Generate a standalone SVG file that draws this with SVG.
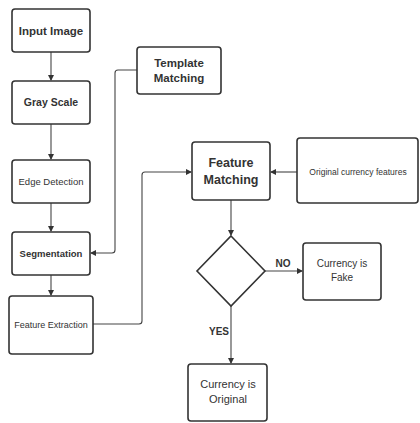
<svg xmlns="http://www.w3.org/2000/svg" width="420" height="423" viewBox="0 0 420 423">
<defs>
<marker id="ah" markerWidth="6" markerHeight="6" refX="5" refY="3" orient="auto" markerUnits="userSpaceOnUse">
<path d="M0,0 L6,3 L0,6 Z" fill="#333"/>
</marker>
<style>
.box{fill:#fff;stroke:#333;stroke-width:1.6}
.t{font-family:"Liberation Sans",Arial,sans-serif;fill:#333;text-anchor:middle}
.b{font-weight:bold}
.c{fill:none;stroke:#444;stroke-width:1.1}
</style>
</defs>
<rect width="420" height="423" fill="#fff"/>
<g id="connectors">
<path class="c" d="M51,52 V80" marker-end="url(#ah)"/>
<path class="c" d="M51,124 V159" marker-end="url(#ah)"/>
<path class="c" d="M51,203 V231" marker-end="url(#ah)"/>
<path class="c" d="M51,275 V295" marker-end="url(#ah)"/>
<path class="c" d="M137,70 H118 Q115,70 115,73 V250 Q115,253 112,253 H91" marker-end="url(#ah)"/>
<path class="c" d="M93,324 H139 Q142,324 142,321 V175 Q142,172 145,172 H191" marker-end="url(#ah)"/>
<path class="c" d="M297,172 H271" marker-end="url(#ah)"/>
<path class="c" d="M231,200 V235" marker-end="url(#ah)"/>
<path class="c" d="M265,271 H302" marker-end="url(#ah)"/>
<path class="c" d="M231,306 V363" marker-end="url(#ah)"/>
<text class="t b" x="283" y="267" font-size="10">NO</text>
<text class="t b" x="219" y="335" font-size="10">YES</text>
</g>
<g id="input-image">
<rect class="box" x="12" y="9" width="78" height="43" rx="3"/>
<text class="t b" x="51" y="35" font-size="11.5">Input Image</text>
</g>
<g id="gray-scale">
<rect class="box" x="12" y="81" width="78" height="43" rx="3"/>
<text class="t b" x="51" y="106" font-size="10.5">Gray Scale</text>
</g>
<g id="edge-detection">
<rect class="box" x="12" y="160" width="78" height="43" rx="3"/>
<text class="t" x="51" y="185" font-size="9.5">Edge Detection</text>
</g>
<g id="segmentation">
<rect class="box" x="12" y="232" width="78" height="43" rx="3"/>
<text class="t b" x="51" y="257" font-size="9.5">Segmentation</text>
</g>
<g id="feature-extraction">
<rect class="box" x="9" y="296" width="84" height="58" rx="3"/>
<text class="t" x="51" y="328" font-size="9">Feature Extraction</text>
</g>
<g id="template-matching">
<rect class="box" x="137" y="47" width="84" height="47" rx="3"/>
<text class="t b" x="179" y="67" font-size="11.5">Template</text>
<text class="t b" x="179" y="82" font-size="11.5">Matching</text>
</g>
<g id="feature-matching">
<rect class="box" x="192" y="142" width="78" height="58" rx="3"/>
<text class="t" x="231" y="167" font-size="12.5" font-weight="600">Feature</text>
<text class="t" x="231" y="184" font-size="12.5" font-weight="600">Matching</text>
</g>
<g id="original-currency-features">
<rect class="box" x="297" y="138" width="121" height="65" rx="3"/>
<text class="t" x="358" y="175" font-size="8.5">Original currency features</text>
</g>
<g id="decision">
<path class="box" d="M231,236 L265,271 L231,306 L197,271 Z"/>
</g>
<g id="currency-fake">
<rect class="box" x="303" y="243" width="78" height="57" rx="3"/>
<text class="t" x="342" y="267" font-size="10">Currency is</text>
<text class="t" x="342" y="281" font-size="10">Fake</text>
</g>
<g id="currency-original">
<rect class="box" x="188" y="364" width="79" height="57" rx="3"/>
<text class="t" x="228" y="388" font-size="11">Currency is</text>
<text class="t" x="228" y="403" font-size="11">Original</text>
</g>
</svg>
